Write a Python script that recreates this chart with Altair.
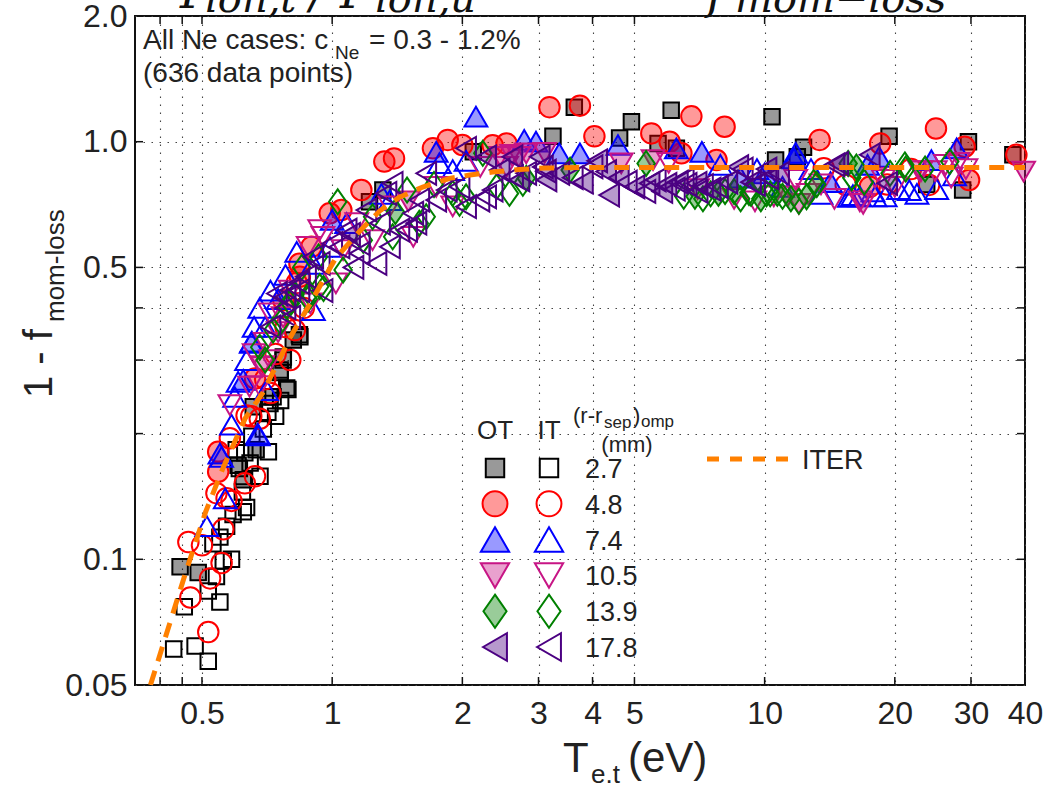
import altair as alt
import pandas as pd

# ---------------- data (T_e,t in eV, 1 - f_mom-loss) ----------------
OT_27 = [(0.445,0.096),(0.49,0.093),(0.606,0.168),(0.623,0.155),(0.657,0.232),(0.667,0.183),
         (0.717,0.245),(0.758,0.28),(0.77,0.30),(0.785,0.257),(0.813,0.335),(0.84,0.345),
         (1.22,0.718),(1.31,0.766),(2.12,0.946),(3.24,1.03),(3.63,1.21),(4.62,1.02),(4.92,1.117),
         (5.67,0.99),(6.08,1.19),(6.25,0.964),(10.4,1.147),(10.6,0.904),(11.9,0.92),(12.3,0.97),
         (19.4,1.03),(23.7,0.79),(28.7,0.766),(29.6,1.0),(37.5,0.93)]
IT_27 = [(0.43,0.061),(0.482,0.062),(0.517,0.057),(0.455,0.077),(0.55,0.079),(0.517,0.084),
         (0.54,0.091),(0.56,0.099),(0.585,0.10),(0.53,0.109),(0.55,0.113),(0.57,0.12),(0.59,0.128),
         (0.623,0.13),(0.634,0.133),(0.62,0.145),(0.61,0.165),(0.681,0.158),(0.646,0.17),(0.628,0.18),
         (0.60,0.183),(0.712,0.181),(0.652,0.197),(0.693,0.205),(0.74,0.22),(0.71,0.225),(0.718,0.236),
         (0.73,0.245),(0.76,0.24),(0.79,0.255),(0.758,0.284),(0.771,0.305),(0.842,0.341)]
OT_48 = [(0.545,0.181),(0.545,0.162),(0.663,0.271),(0.771,0.417),(0.842,0.475),(0.84,0.51),
         (0.895,0.56),(0.987,0.674),(1.05,0.686),(1.168,0.766),(1.32,0.896),(1.39,0.912),(1.71,0.964),
         (1.85,1.01),(2.0,0.982),(2.35,0.98),(2.53,0.99),(3.18,1.21),(3.74,1.22),(4.04,1.03),
         (5.47,1.047),(6.03,1.0),(6.77,1.15),(8.08,1.086),(6.42,0.938),(7.74,0.904),(13.4,1.01),
         (17.5,0.78),(18.5,0.99),(24.9,1.076),(29.0,0.973),(29.7,0.81),(38.2,0.93)]
IT_48 = [(0.517,0.067),(0.47,0.081),(0.522,0.09),(0.555,0.098),(0.465,0.11),(0.50,0.108),
         (0.56,0.118),(0.54,0.144),(0.57,0.14),(0.585,0.138),(0.628,0.152),(0.663,0.158),(0.58,0.195),
         (0.65,0.22),(0.68,0.217),(0.634,0.221),(0.70,0.27),(0.72,0.25),(0.74,0.31),(0.78,0.36),
         (0.80,0.30),(0.82,0.354),(0.86,0.40),(0.828,0.459),(13.7,0.864),(15.4,0.788),(19.2,0.79),
         (21.8,0.86),(24.0,0.788)]
OT_74 = [(0.55,0.179),(0.623,0.269),(0.673,0.20),(0.65,0.33),(1.0,0.65),(1.74,0.946),(2.15,1.148),
         (2.78,1.01),(2.96,1.0),(3.35,0.938),(3.74,0.938),(4.58,0.982),(6.25,0.964),(7.16,0.946),
         (8.8,0.82),(10.0,0.84),(11.7,0.912),(11.8,0.94),(14.2,0.80),(17.3,0.88),(18.4,0.92),
         (24.3,0.904),(27.8,0.964)]
IT_74 = [(0.513,0.12),(0.566,0.14),(0.555,0.176),(0.585,0.21),(0.675,0.198),(0.595,0.245),
         (0.606,0.266),(0.634,0.30),(0.652,0.332),(0.705,0.254),(0.66,0.36),(0.68,0.40),(0.70,0.36),
         (0.72,0.44),(0.75,0.42),(0.78,0.48),(0.905,0.395),(0.828,0.545),(0.904,0.51),(0.987,0.56),
         (1.08,0.638),(1.3,0.75),(1.36,0.725),(1.77,0.888),(1.9,0.855),(2.04,0.90),(7.9,0.88),
         (9.6,0.86),(11.0,0.78),(12.8,0.86),(13.5,0.75),(15.7,0.738),(16.0,0.745),(16.6,0.74),
         (17.8,0.76),(18.0,0.74),(19.0,0.74),(20.4,0.77),(21.6,0.766),(22.5,0.75),(25.0,0.77),
         (27.5,0.83)]
OT_105 = [(0.69,0.29),(1.5,0.72),(2.44,0.92),(2.6,0.93),(2.7,0.92),(2.81,0.938),(3.1,0.94),
          (4.66,0.887),(5.52,0.904),(11.3,0.74),(12.0,0.71),(16.9,0.71),(22.8,0.85),(39.7,0.848)]
IT_105 = [(0.58,0.234),(0.644,0.259),(0.68,0.26),(0.688,0.289),(0.66,0.31),(0.70,0.33),(0.72,0.30),
          (0.77,0.38),(0.718,0.388),(0.75,0.35),(0.80,0.44),(0.89,0.41),(0.88,0.56),(0.936,0.614),
          (0.952,0.592),(1.06,0.55),(1.02,0.458),(1.14,0.638),(1.24,0.581),(1.36,0.70),(1.54,0.592),
          (1.74,0.78),(1.90,0.70),(2.2,0.87),(2.53,0.871),(6.0,0.89),(7.0,0.77),(8.5,0.73),(9.5,0.72),
          (10.5,0.74),(11.8,0.81),(12.6,0.75),(13.5,0.79),(14.5,0.73),(16.6,0.72),(18.0,0.82),
          (18.8,0.81),(20.0,0.78),(23.0,0.85),(24.8,0.85),(26.2,0.88),(27.0,0.82),(28.0,0.89),(29.2,0.86)]
OT_139 = [(1.4,0.68),(2.81,0.817),(3.55,0.855),(5.32,0.887),(6.9,0.74),(7.82,0.752),(8.5,0.76),
          (9.8,0.73),(10.7,0.752),(11.5,0.73),(12.5,0.738),(13.2,0.79),(15.6,0.887),(16.3,0.87)]
IT_139 = [(0.68,0.322),(0.70,0.30),(0.73,0.354),(0.76,0.37),(0.785,0.403),(0.80,0.41),(0.82,0.43),
          (0.88,0.42),(0.887,0.433),(0.85,0.50),(0.936,0.45),(0.955,0.445),(0.93,0.53),(1.06,0.493),
          (1.03,0.718),(1.18,0.581),(1.24,0.661),(1.38,0.592),(1.49,0.766),(1.59,0.638),(1.65,0.661),
          (1.72,0.79),(1.90,0.752),(1.97,0.712),(2.04,0.738),(2.23,0.938),(2.4,0.78),(2.57,0.752),
          (2.76,0.795),(6.5,0.74),(7.2,0.73),(7.5,0.75),(8.1,0.76),(8.8,0.73),(9.2,0.755),(9.3,0.752),
          (10.1,0.75),(10.3,0.75),(11.0,0.74),(12.0,0.72),(13.0,0.80),(15.9,0.82),(17.0,0.80),
          (19.5,0.84),(21.1,0.88),(21.2,0.86),(23.5,0.86),(26.8,0.896)]
OT_178 = [(1.1,0.60),(2.27,0.92),(2.44,0.855),(2.61,0.92),(2.71,0.81),(3.02,0.92),(3.13,0.81),
          (3.12,0.85),(3.35,0.84),(3.8,0.80),(4.1,0.90),(4.3,0.848),(4.37,0.745),(4.6,0.82),(5.0,0.78),
          (5.42,0.795),(5.8,0.76),(5.93,0.79),(6.3,0.80),(6.96,0.795),(7.5,0.77),(8.2,0.80),
          (8.69,0.871),(9.3,0.80),(10.1,0.86),(10.8,0.84),(14.5,0.88),(14.8,0.887),(17.5,0.93),
          (19.2,0.795)]
IT_178 = [(0.72,0.36),(0.745,0.433),(0.78,0.40),(0.78,0.425),(0.80,0.38),(0.80,0.441),(0.84,0.44),
          (0.84,0.46),(0.87,0.475),(0.904,0.53),(0.95,0.44),(0.936,0.511),(1.0,0.57),(1.04,0.56),
          (1.08,0.614),(1.12,0.50),(1.158,0.54),(1.158,0.57),(1.2,0.686),(1.266,0.511),(1.29,0.638),
          (1.335,0.752),(1.36,0.56),(1.38,0.795),(1.43,0.614),(1.49,0.614),(1.54,0.674),(1.566,0.638),
          (1.59,0.725),(1.65,0.84),(1.74,0.725),(1.84,0.766),(1.97,0.78),(2.04,0.964),(2.04,0.699),
          (2.19,0.725),(2.27,0.738),(2.35,0.766),(2.62,0.825),(2.81,0.84),(3.07,0.87),(3.6,0.82),
          (4.0,0.871),(4.8,0.80),(5.3,0.76),(5.6,0.81),(6.2,0.77),(6.5,0.81),(6.6,0.79),(7.0,0.76),
          (7.2,0.785),(7.8,0.78),(8.9,0.86),(9.5,0.79),(10.2,0.82)]
ITER = [(0.38,0.050),(0.46,0.094),(0.51,0.130),(0.56,0.166),(0.63,0.218),(0.69,0.250),(0.75,0.297),
        (0.81,0.348),(0.89,0.410),(0.96,0.472),(1.02,0.527),(1.16,0.612),(1.29,0.684),(1.43,0.736),
        (1.62,0.779),(1.87,0.817),(2.08,0.832),(2.35,0.846),(2.71,0.858),(3.1,0.865),(4.0,0.868),
        (40,0.868)]

CASES = ["2.7", "4.8", "7.4", "10.5", "13.9", "17.8"]
X_GRID = [0.4, 0.45, 0.5, 1, 2, 3, 4, 5, 10, 20, 30, 40]
X_LABELS = [0.5, 1, 2, 3, 4, 5, 10, 20, 30, 40]
Y_GRID = [0.05, 0.1, 0.2, 0.3, 0.4, 0.5, 1, 2]
Y_TICKS = [0.1, 0.2, 0.3, 0.4, 0.5, 1]

# ---------------- styles ----------------
DIAMOND = "M0,-1L0.7,0L0,1L-0.7,0Z"
STYLE = {  # case: (shape, color, data size, legend size)
    "2.7": ("square", "#000000", 240, 340),
    "4.8": ("circle", "#ff0000", 420, 620),
    "7.4": ("triangle-up", "#0000ff", 520, 800),
    "10.5": ("triangle-down", "#c71585", 520, 800),
    "13.9": (DIAMOND, "#008000", 620, 1090),
    "17.8": ("triangle-left", "#4b0082", 520, 760),
}
SERIES = {"2.7": (OT_27, IT_27), "4.8": (OT_48, IT_48), "7.4": (OT_74, IT_74),
          "10.5": (OT_105, IT_105), "13.9": (OT_139, IT_139), "17.8": (OT_178, IT_178)}

W, H = 890, 669
PL, PT, PR, PB = 135, 16, 25, 101
FONT = "Liberation Sans"
SERIF = "DejaVu Serif"
TXT = "#222222"

xscale = alt.Scale(type="log", domain=[0.35, 40], nice=False)
yscale = alt.Scale(type="log", domain=[0.05, 2.0], nice=False)
xlab = "indexof(" + str(X_LABELS) + ", datum.value) >= 0 ? toString(datum.value) : ''"
ylab = ("datum.value == 0.05 ? '0.05' : datum.value == 0.1 ? '0.1' : datum.value == 0.5 ? '0.5' : "
        "datum.value == 1 ? '1.0' : datum.value == 2 ? '2.0' : ''")
GRID = dict(grid=True, gridDash=[1.5, 6.5], gridColor="#444444", gridWidth=1.1, ticks=False,
            domain=False, labelFont=FONT, labelFontSize=32, labelColor=TXT, title=None,
            labelOverlap=False, labelFlush=False)
xaxis = alt.Axis(values=X_GRID, labelExpr=xlab, labelPadding=13, **GRID)
yaxis = alt.Axis(values=Y_GRID, labelExpr=ylab, labelPadding=8, **GRID)
X = lambda: alt.X("T:Q", scale=xscale, axis=xaxis)
Y = lambda: alt.Y("f:Q", scale=yscale, axis=yaxis)


def scatter(points, shape, color, size, filled):
    df = pd.DataFrame(points, columns=["T", "f"])
    kw = dict(shape=shape, size=size, stroke=color, strokeWidth=2, opacity=1, filled=filled)
    if filled:
        kw.update(fill=color, fillOpacity=0.4)
    return alt.Chart(df).mark_point(**kw).encode(x=X(), y=Y())


ONE = pd.DataFrame({"a": [0]})


def txt(s, px, py, size, align="left", angle=0, font=FONT, color=TXT, style="normal"):
    return alt.Chart(ONE).mark_text(text=s, align=align, baseline="alphabetic", fontSize=size,
                                    font=font, color=color, angle=angle, fontStyle=style).encode(
        x=alt.value(px - PL), y=alt.value(py - PT))


def sym(shape, color, size, filled, px, py):
    kw = dict(shape=shape, size=size, stroke=color, strokeWidth=2, opacity=1, filled=filled)
    if filled:
        kw.update(fill=color, fillOpacity=0.4)
    return alt.Chart(ONE).mark_point(**kw).encode(x=alt.value(px - PL), y=alt.value(py - PT))


layers = []
# inward tick marks on all four sides
xt = pd.DataFrame({"T": X_GRID})
yt = pd.DataFrame({"f": Y_TICKS})
TK = dict(color="#111111", strokeWidth=1.5)
layers += [
    alt.Chart(xt).mark_rule(**TK).encode(x=X(), y=alt.value(H), y2=alt.value(H - 8)),
    alt.Chart(xt).mark_rule(**TK).encode(x=X(), y=alt.value(0), y2=alt.value(8)),
    alt.Chart(yt).mark_rule(**TK).encode(y=Y(), x=alt.value(0), x2=alt.value(8)),
    alt.Chart(yt).mark_rule(**TK).encode(y=Y(), x=alt.value(W), x2=alt.value(W - 8)),
]

for c in CASES:
    shape, color, size, _ = STYLE[c]
    ot, it = SERIES[c]
    layers.append(scatter(ot, shape, color, size, True))
    layers.append(scatter(it, shape, color, size, False))

iter_df = pd.DataFrame(ITER, columns=["T", "f"])
layers.append(alt.Chart(iter_df).mark_line(color="#ff8000", strokeWidth=5, strokeDash=[15, 10],
                                           clip=True).encode(x=X(), y=Y()))

# annotation
layers += [txt("All Ne cases: c", 143, 49, 28), txt("Ne", 335, 59, 19),
           txt("= 0.3 - 1.2%", 369, 49, 28), txt("(636 data points)", 143, 82, 28)]

# legend
layers += [txt("OT", 495, 439, 26, align="center"), txt("IT", 549, 439, 26, align="center"),
           txt("(r-r", 573, 423, 22), txt("sep", 604, 428, 17), txt(")", 633, 423, 22),
           txt("omp", 641, 427, 17), txt("(mm)", 627, 452, 22, align="center")]
ROW0, DROW = 468, 35.8
for i, c in enumerate(CASES):
    shape, color, _, lsize = STYLE[c]
    ry = ROW0 + i * DROW
    layers.append(sym(shape, color, lsize, True, 495, ry))
    layers.append(sym(shape, color, lsize, False, 549, ry))
    layers.append(txt(c, 585, ry + 10, 27))
layers.append(alt.Chart(ONE).mark_rule(color="#ff8000", strokeWidth=5, strokeDash=[12, 11]).encode(
    x=alt.value(707 - PL), x2=alt.value(792 - PL), y=alt.value(459 - PT)))
layers.append(txt("ITER", 802, 469, 27))

# axis titles
layers += [txt("1 - f", 52, 398, 40, angle=270), txt("mom-loss", 64, 322, 26, angle=270),
           txt("T", 563, 772, 42), txt("e.t", 591, 783, 26), txt("(eV)", 628, 772, 42)]

# slide caption above the figure, cut off by the top edge of the picture
layers += [txt("Γ", 180, 8, 46, font=SERIF, style="italic", color="#111111"),
           txt("ion,t", 205, 12, 40, font=SERIF, style="italic", color="#111111"),
           txt("/ Γ", 310, 8, 46, font=SERIF, style="italic", color="#111111"),
           txt("ion,u", 375, 12, 40, font=SERIF, style="italic", color="#111111"),
           txt("f", 707, 8, 46, font=SERIF, style="italic", color="#111111"),
           txt("mom−loss", 735, 12, 40, font=SERIF, style="italic", color="#111111")]

chart = alt.layer(*layers).properties(
    width=W, height=H, padding={"left": PL, "top": PT, "right": PR, "bottom": PB},
    autosize=alt.AutoSizeParams(type="none"), background="white"
).configure_view(stroke="#111111", strokeWidth=2)

chart.save("out.html", embed_options={"renderer": "svg", "actions": False})
